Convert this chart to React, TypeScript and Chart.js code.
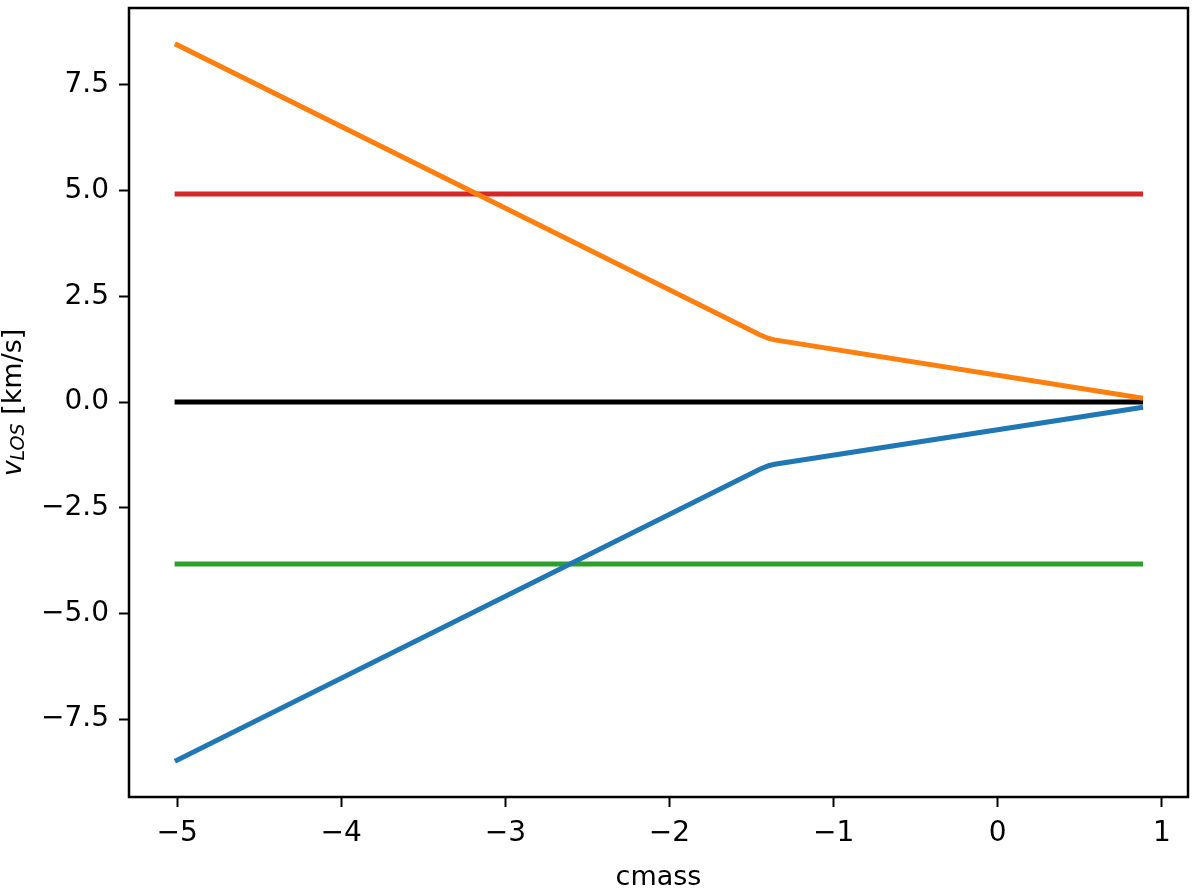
import React, { useEffect, useRef } from "react";
import { Chart, registerables } from "chart.js";

Chart.register(...registerables);

const cmass = [-5, -1.45, -1.4, -1.36, 0.87];
const vBlue = [-8.47, -1.59, -1.51, -1.47, -0.13];
const vOrange = [8.45, 1.59, 1.51, 1.47, 0.1];
const flatX = [-5, 0.87];
const vBlack = [0, 0];
const vRed = [4.92, 4.92];
const vGreen = [-3.83, -3.83];

const xTicks = [-5, -4, -3, -2, -1, 0, 1];
const yTicks = [-7.5, -5, -2.5, 0, 2.5, 5, 7.5];

const FONT = "'DejaVu Sans', sans-serif";

const toPts = (xs: number[], ys: number[]) => xs.map((x, i) => ({ x, y: ys[i] }));
const fmt = (v: number, d: number) => v.toFixed(d).replace("-", "\u2212");

const framePlugin = {
  id: "frame",
  afterDraw(chart: any) {
    const { ctx, chartArea } = chart;
    ctx.save();
    ctx.strokeStyle = "#000";
    ctx.lineWidth = 2.5;
    ctx.strokeRect(chartArea.left, chartArea.top, chartArea.right - chartArea.left, chartArea.bottom - chartArea.top);
    // y-axis label with math-style subscript
    const cy = (chartArea.top + chartArea.bottom) / 2;
    ctx.translate(21, cy);
    ctx.rotate(-Math.PI / 2);
    ctx.fillStyle = "#000";
    ctx.textBaseline = "alphabetic";
    ctx.textAlign = "left";
    const f1 = `italic 27px ${FONT}`;
    const f2 = `italic 19px ${FONT}`;
    const f3 = `27px ${FONT}`;
    ctx.font = f1;
    const w1 = ctx.measureText("v").width;
    ctx.font = f2;
    const w2 = ctx.measureText("LOS").width;
    ctx.font = f3;
    const w3 = ctx.measureText(" [km/s]").width;
    let x = -(w1 + w2 + w3) / 2;
    ctx.font = f1;
    ctx.fillText("v", x, 0);
    x += w1;
    ctx.font = f2;
    ctx.fillText("LOS", x, 3);
    x += w2;
    ctx.font = f3;
    ctx.fillText(" [km/s]", x, 0);
    ctx.restore();
  },
};

export default function App() {
  const ref = useRef<HTMLCanvasElement>(null);
  useEffect(() => {
    if (!ref.current) return;
    const mk = (data: any, color: string) => ({
      data,
      borderColor: color,
      backgroundColor: color,
      borderWidth: 5,
      pointRadius: 0,
      showLine: true,
      tension: 0,
      fill: false,
      borderCapStyle: "square",
    });
    const chart = new Chart(ref.current, {
      type: "scatter",
      data: {
        datasets: [
          mk(toPts(cmass, vBlue), "#1f77b4"),
          mk(toPts(cmass, vOrange), "#ff7f0e"),
          mk(toPts(flatX, vRed), "#d62728"),
          mk(toPts(flatX, vGreen), "#2ca02c"),
          mk(toPts(flatX, vBlack), "#000000"),
        ] as any,
      },
      options: {
        animation: false,
        responsive: false,
        devicePixelRatio: 1,
        layout: { padding: { left: 0, top: 8, right: 12, bottom: 0 } },
        plugins: { legend: { display: false }, tooltip: { enabled: false } },
        scales: {
          x: {
            type: "linear",
            min: -5.293,
            max: 1.159,
            afterBuildTicks: (s: any) => {
              s.ticks = xTicks.map((v) => ({ value: v }));
            },
            afterFit: (s: any) => {
              s.height = 97;
              s.paddingLeft = 0;
              s.paddingRight = 0;
            },
            border: { display: false },
            grid: { drawOnChartArea: false, drawTicks: true, tickLength: 10, tickWidth: 2, tickColor: "#000" },
            ticks: {
              color: "#000",
              font: { family: FONT, size: 28 },
              padding: 10,
              maxRotation: 0,
              callback: (v: any) => fmt(Number(v), 0),
            },
            title: {
              display: true,
              text: "cmass",
              color: "#000",
              font: { family: FONT, size: 27 },
              padding: { top: 0, bottom: 0 },
            },
          },
          y: {
            type: "linear",
            min: -9.34,
            max: 9.32,
            afterBuildTicks: (s: any) => {
              s.ticks = yTicks.map((v) => ({ value: v }));
            },
            afterFit: (s: any) => {
              s.width = 129;
              s.paddingTop = 0;
              s.paddingBottom = 0;
            },
            border: { display: false },
            grid: { drawOnChartArea: false, drawTicks: true, tickLength: 10, tickWidth: 2, tickColor: "#000" },
            ticks: {
              color: "#000",
              font: { family: FONT, size: 28 },
              padding: 10,
              callback: (v: any) => fmt(Number(v), 1),
            },
          },
        },
      },
      plugins: [framePlugin],
    });
    return () => chart.destroy();
  }, []);
  return (
    <div style={{ position: "absolute", left: 0, top: 0, width: 1200, height: 894, background: "#fff" }}>
      <canvas ref={ref} width={1200} height={894} style={{ display: "block" }} />
    </div>
  );
}
